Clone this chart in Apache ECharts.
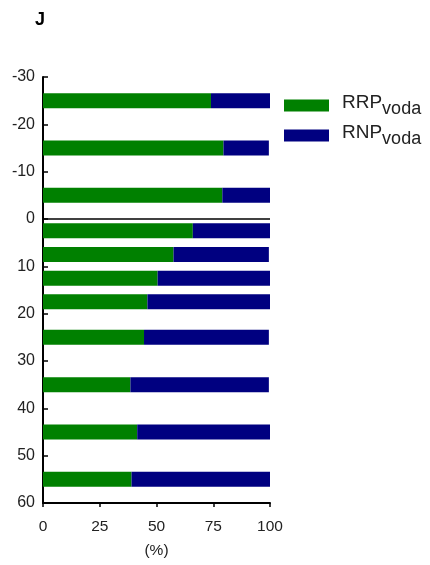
<!DOCTYPE html>
<html>
<head>
<meta charset="utf-8">
<script src="https://cdn.jsdelivr.net/npm/echarts@6/dist/echarts.min.js"></script>
<style>
  html, body { margin: 0; padding: 0; background: #fff; }
  #chart { width: 430px; height: 565px; }
</style>
</head>
<body>
<div id="chart"></div>
<script>
// Depth of each layer (y position of the bar centre)
const depths = [-25, -15, -5, 2.5, 7.5, 12.5, 17.5, 25, 35, 45, 55];
// Share of each fraction, in %
const rrpVoda = [74, 79.5, 79, 66, 57.5, 50.5, 46, 44.5, 38.5, 41.5, 39];
const rnpVoda = [26, 20, 21, 34, 42, 49.5, 54, 55, 61, 58.5, 61];
// Axis ticks
const depthTicks = { min: -30, max: 60, step: 10 };
const shareTicks = { min: 0, max: 100, step: 25 };

const FONT = 'Liberation Sans, Arial, Helvetica, sans-serif';
const BAR_PX = 15;

// Stacked segments: [depth, start, end]
const rrpData = depths.map((d, i) => [d, 0, rrpVoda[i]]);
const rnpData = depths.map((d, i) => [d, rrpVoda[i], rrpVoda[i] + rnpVoda[i]]);

function renderSegment(params, api) {
  const y = api.value(0);
  const p0 = api.coord([api.value(1), y]);
  const p1 = api.coord([api.value(2), y]);
  return {
    type: 'rect',
    shape: { x: p0[0], y: p0[1] - BAR_PX / 2, width: p1[0] - p0[0], height: BAR_PX },
    style: { fill: api.visual('color') }
  };
}

const chart = echarts.init(document.getElementById('chart'), null, { renderer: 'canvas' });

chart.setOption({
  animation: false,
  backgroundColor: '#ffffff',
  title: {
    text: 'J',
    left: 35, top: 11,
    padding: 0,
    textStyle: { fontFamily: FONT, fontSize: 18, fontWeight: 'bold', color: '#000' }
  },
  legend: {
    orient: 'vertical',
    left: 284, top: 93,
    padding: 0,
    itemWidth: 45, itemHeight: 12, itemGap: 5,
    icon: 'rect',
    data: ['RRPvoda', 'RNPvoda'],
    formatter: function (name) {
      // main label with "voda" set as a subscript
      return '{a|' + name.slice(0, 3) + '}{b|' + name.slice(3) + '}';
    },
    textStyle: {
      fontFamily: FONT,
      color: '#222',
      rich: {
        a: { fontFamily: FONT, fontSize: 19, lineHeight: 25, verticalAlign: 'top', padding: [0, 0, 0, 8], color: '#222' },
        b: { fontFamily: FONT, fontSize: 18, lineHeight: 25, verticalAlign: 'bottom', color: '#222' }
      }
    }
  },
  grid: { left: 43, right: 160, top: 77, bottom: 62, containLabel: false },
  xAxis: {
    type: 'value',
    min: shareTicks.min, max: shareTicks.max, interval: shareTicks.step,
    name: '(%)', nameLocation: 'middle', nameGap: 40,
    nameTextStyle: { fontFamily: FONT, fontSize: 15.5, color: '#222' },
    axisLine: { show: true, onZero: false, lineStyle: { color: '#000', width: 2 } },
    axisTick: { show: true, length: 4, lineStyle: { color: '#000', width: 1.5 } },
    axisLabel: { fontFamily: FONT, fontSize: 15.5, color: '#222', margin: 16 },
    splitLine: { show: false }
  },
  yAxis: {
    type: 'value',
    inverse: true,
    min: depthTicks.min, max: depthTicks.max, interval: depthTicks.step,
    axisLine: { show: true, onZero: false, lineStyle: { color: '#000', width: 2 } },
    axisTick: { show: true, inside: true, length: 5, lineStyle: { color: '#000', width: 1.5 } },
    axisLabel: { fontFamily: FONT, fontSize: 16, color: '#222', margin: 8 },
    splitLine: { show: false }
  },
  series: [
    {
      name: 'RRPvoda',
      type: 'custom',
      renderItem: renderSegment,
      itemStyle: { color: '#008000' },
      encode: { y: 0, x: [1, 2] },
      data: rrpData,
      z: 2,
      markLine: {
        silent: true,
        symbol: 'none',
        label: { show: false },
        lineStyle: { color: '#000', width: 1.5, type: 'solid' },
        data: [{ yAxis: 0 }]
      }
    },
    {
      name: 'RNPvoda',
      type: 'custom',
      renderItem: renderSegment,
      itemStyle: { color: '#000080' },
      encode: { y: 0, x: [1, 2] },
      data: rnpData,
      z: 2
    }
  ]
});
</script>
</body>
</html>
